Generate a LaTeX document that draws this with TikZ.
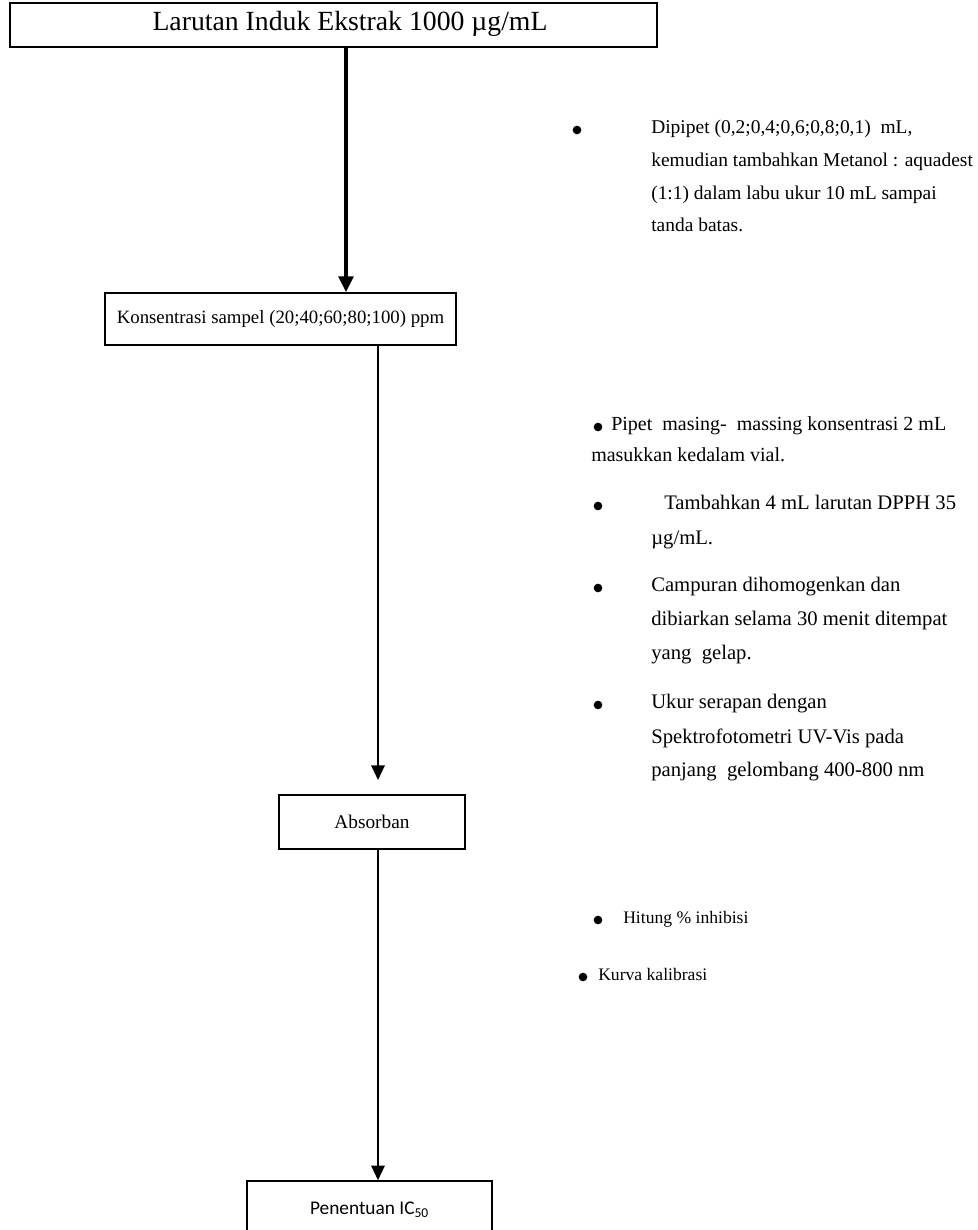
\documentclass[tikz,border=0pt]{standalone}
\usepackage{fontspec}
\setmainfont{Liberation Serif}
\newfontfamily\calib{Carlito}
\usetikzlibrary{arrows.meta}
\begin{document}
\begin{tikzpicture}[x=0.75pt,y=-0.75pt,
  box/.style={draw, line width=1.1pt, inner sep=0, align=center},
  txt/.style={anchor=mid west, inner sep=0},
  fa/.style={font=\fontsize{14.6}{17}\selectfont},
  fb/.style={font=\fontsize{15.5}{18}\selectfont},
  fc/.style={font=\fontsize{13.2}{16}\selectfont},
  bul/.style={circle, fill=black, inner sep=0, minimum size=6.5pt},
  thick arrow/.style={line width=3pt, -{Triangle[length=12pt,width=11pt]}},
  thin arrow/.style={line width=1.5pt, -{Triangle[length=11pt,width=10pt]}}
]
\useasboundingbox (0,0) rectangle (977,1230);
\clip (0,0) rectangle (977,1230);

% boxes
\node[box, minimum width={647*0.75pt}, minimum height={44*0.75pt}]
  (b1) at (333.5,25) {};
\node[inner sep=0, font=\fontsize{20.8}{24}\selectfont] (t1) at (350,24) {Larutan Induk Ekstrak 1000 µg/mL};
\node[box, minimum width={351*0.75pt}, minimum height={52*0.75pt}, font=\fontsize{14.1}{17}\selectfont]
  (b2) at (280.5,319) {Konsentrasi sampel (20;40;60;80;100) ppm};
\node[box, minimum width={186*0.75pt}, minimum height={54*0.75pt}, font=\fontsize{14.5}{17}\selectfont]
  (b3) at (372,822) {Absorban};
\node[box, minimum width={245*0.75pt}, minimum height={58*0.75pt}, font=\calib\fontsize{14.5}{17}\selectfont]
  (b4) at (369.5,1210) {Penentuan IC\textsubscript{50}};

% arrows
\coordinate (x1) at (346,0);
\coordinate (x2) at (378,0);
\coordinate (e2) at (378,780);
\draw[thick arrow] (b1.south -| x1) -- (b2.north -| x1);
\draw[thin arrow] (b2.south -| x2) -- (e2);
\draw[thin arrow] (b3.south -| x2) -- (b4.north -| x2);

% group 1
\node[bul] (g1b1) at (577,130) {};
\node[txt, fa] (g1l1) at (651,130) {Dipipet (0,2;0,4;0,6;0,8;0,1)\ \ mL,};
\node[txt, fa] (g1l2) at (651,163) {kemudian tambahkan Metanol : aquadest};
\node[txt, fa] (g1l3) at (651,196) {(1:1) dalam labu ukur 10 mL sampai};
\node[txt, fa] (g1l4) at (651,228) {tanda batas.};

% group 2
\node[bul] (g2b1) at (598,427) {};
\node[txt, font=\fontsize{15}{18}\selectfont] (g2l1) at (611,427) {Pipet\ \ masing-\ \ massing konsentrasi 2 mL};
\node[txt, font=\fontsize{15}{18}\selectfont] (g2l2) at (591,458) {masukkan kedalam vial.};
\node[bul] (g2b2) at (598,506) {};
\node[txt, fb] (g2l3) at (664,506) {Tambahkan 4 mL larutan DPPH 35};
\node[txt, fb] (g2l4) at (651,541) {µg/mL.};
\node[bul] (g2b3) at (598,588) {};
\node[txt, fb] (g2l5) at (651,588) {Campuran dihomogenkan dan};
\node[txt, fb] (g2l6) at (651,622) {dibiarkan selama 30 menit ditempat};
\node[txt, fb] (g2l7) at (651,656) {yang\ \ gelap.};
\node[bul] (g2b4) at (598,705) {};
\node[txt, fb] (g2l8) at (651,705) {Ukur serapan dengan};
\node[txt, fb] (g2l9) at (651,740) {Spektrofotometri UV-Vis pada};
\node[txt, fb] (g2l10) at (651,773) {panjang\ \ gelombang 400-800 nm};

% group 3
\node[bul] (g3b1) at (598,920) {};
\node[txt, fc] (g3l1) at (623,920) {Hitung \% inhibisi};
\node[bul] (g3b2) at (583,977) {};
\node[txt, fc] (g3l2) at (598,977) {Kurva kalibrasi};
\end{tikzpicture}
\end{document}
